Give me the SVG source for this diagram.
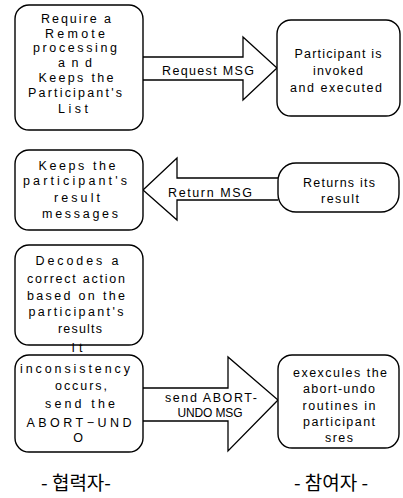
<svg xmlns="http://www.w3.org/2000/svg" width="403" height="498" viewBox="0 0 403 498">
<style>
.box{fill:#fff;stroke:#000;stroke-width:1.4}
.arr{fill:#fff;stroke:#000;stroke-width:1.3;stroke-linejoin:miter}
text{font-family:"Liberation Sans",Arial,sans-serif;font-size:12.5px;fill:#000;text-anchor:middle}
.ko{font-family:"Noto Sans CJK KR","Noto Sans",sans-serif;font-size:19px}
</style>
<rect width="403" height="498" fill="#fff"/>
<g id="connectors">
<path class="arr" d="M143,57 H243 V37 L277,68 L243,100 V80 H143"/>
<path class="arr" d="M278,178 H177 V158 L143,190 L177,220 V200 H278"/>
<path class="arr" d="M143,388 H228 V357 L278,400 L228,451 V421 H143"/>
<text x="208" y="75" textLength="92" lengthAdjust="spacing">Request MSG</text>
<text x="210" y="197" textLength="84" lengthAdjust="spacing">Return MSG</text>
<text x="211" y="402" textLength="92" lengthAdjust="spacing">send ABORT-</text>
<text x="210" y="417" textLength="65" lengthAdjust="spacing" style="font-size:12px">UNDO MSG</text>
</g>
<g id="n1">
<rect class="box" x="15" y="5" width="128" height="125" rx="14"/>
<text x="76" y="23" textLength="70" lengthAdjust="spacing">Require a</text>
<text x="75" y="38" textLength="60" lengthAdjust="spacing">Remote</text>
<text x="75" y="52" textLength="84" lengthAdjust="spacing">processing</text>
<text x="75" y="67" textLength="34" lengthAdjust="spacing">and</text>
<text x="76" y="82" textLength="75" lengthAdjust="spacing">Keeps the</text>
<text x="75" y="97" textLength="94" lengthAdjust="spacing">Participant's</text>
<text x="73" y="113" textLength="30" lengthAdjust="spacing">List</text>
</g>
<g id="n2">
<rect class="box" x="277" y="20" width="123" height="96" rx="14"/>
<text x="338" y="58" textLength="87" lengthAdjust="spacing">Participant is</text>
<text x="338" y="75" textLength="50" lengthAdjust="spacing">invoked</text>
<text x="336" y="92" textLength="92" lengthAdjust="spacing">and executed</text>
</g>
<g id="n3">
<rect class="box" x="15" y="150" width="128" height="80" rx="14"/>
<text x="77" y="170" textLength="77" lengthAdjust="spacing">Keeps the</text>
<text x="75" y="185" textLength="104" lengthAdjust="spacing">participant's</text>
<text x="77" y="202" textLength="46" lengthAdjust="spacing">result</text>
<text x="80" y="218" textLength="76" lengthAdjust="spacing">messages</text>
</g>
<g id="n4">
<rect class="box" x="278" y="163" width="121" height="49" rx="18"/>
<text x="339" y="187" textLength="72" lengthAdjust="spacing">Returns its</text>
<text x="340" y="203" textLength="38" lengthAdjust="spacing">result</text>
</g>
<g id="n5">
<rect class="box" x="15" y="245" width="128" height="100" rx="14"/>
<text x="77" y="265" textLength="83" lengthAdjust="spacing">Decodes a</text>
<text x="76" y="283" textLength="98" lengthAdjust="spacing">correct action</text>
<text x="76" y="300" textLength="98" lengthAdjust="spacing">based on the</text>
<text x="76" y="316" textLength="95" lengthAdjust="spacing">participant's</text>
<text x="80" y="333" textLength="44" lengthAdjust="spacing">results</text>
</g>
<g id="n6">
<rect class="box" x="15" y="355" width="128" height="97" rx="14"/>
<text x="77" y="352" textLength="11" lengthAdjust="spacing">It</text>
<text x="75" y="373" textLength="110" lengthAdjust="spacing">inconsistency</text>
<text x="81" y="390" textLength="52" lengthAdjust="spacing">occurs,</text>
<text x="80" y="408" textLength="70" lengthAdjust="spacing">send the</text>
<text x="79" y="427" textLength="105" lengthAdjust="spacing">ABORT−UND</text>
<text x="78" y="442">O</text>
</g>
<g id="n7">
<rect class="box" x="278" y="355" width="121" height="93" rx="14"/>
<text x="340" y="377" textLength="94" lengthAdjust="spacing">exexcules the</text>
<text x="339" y="393" textLength="72" lengthAdjust="spacing">abort-undo</text>
<text x="339" y="410" textLength="73" lengthAdjust="spacing">routines in</text>
<text x="339" y="426" textLength="72" lengthAdjust="spacing">participant</text>
<text x="339" y="442" textLength="28" lengthAdjust="spacing">sres</text>
</g>
<g id="labels">
<text class="ko" x="76" y="490">- 협력자-</text>
<text class="ko" x="331" y="490">- 참여자 -</text>
</g>
</svg>
